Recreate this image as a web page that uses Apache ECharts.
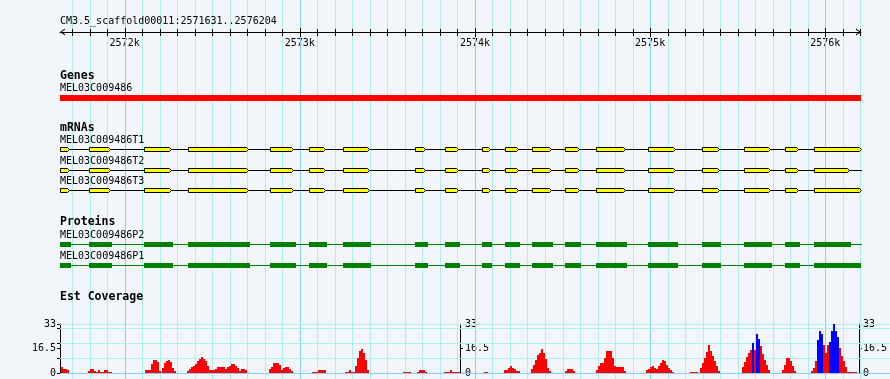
<!DOCTYPE html>
<html>
<head>
<meta charset="utf-8">
<script src="https://cdn.jsdelivr.net/npm/echarts@6.0.0/dist/echarts.min.js"></script>
<style>
html,body{margin:0;padding:0;background:#f2f5fa;}
#chart{width:890px;height:379px;}
</style>
</head>
<body>
<div id="chart"></div>
<script>
// ================= DATA =================
const regionStart = 2571631;
const regionEnd = 2576204;
const regionTitle = 'CM3.5_scaffold00011:2571631..2576204';
const majorTicks = [2572000, 2573000, 2574000, 2575000, 2576000];
const tickStep = 100;

const trackTitles = ['Genes', 'mRNAs', 'Proteins', 'Est Coverage'];

const geneNames = ['MEL03C009486'];
const geneSpans = [[2571631, 2576204]];

const mrnaNames = ['MEL03C009486T1', 'MEL03C009486T2', 'MEL03C009486T3'];
const mrnaSpans = [[2571625, 2576202], [2571625, 2576210], [2571625, 2576202]];
const mrnaT1Exons = [[2571625,2571682],[2571798,2571916],[2572111,2572263],[2572363,2572703],[2572830,2572963],[2573054,2573144],[2573248,2573395],[2573659,2573715],[2573831,2573902],[2574042,2574086],[2574173,2574247],[2574327,2574434],[2574516,2574594],[2574691,2574857],[2574990,2575142],[2575298,2575393],[2575538,2575685],[2575770,2575846],[2575937,2576202]];
const mrnaT2Exons = [[2571625,2571682],[2571798,2571916],[2572111,2572263],[2572363,2572703],[2572830,2572963],[2573054,2573144],[2573248,2573395],[2573659,2573715],[2573831,2573902],[2574042,2574086],[2574173,2574247],[2574327,2574434],[2574516,2574594],[2574691,2574857],[2574990,2575142],[2575298,2575393],[2575538,2575685],[2575770,2575846],[2575937,2576137]];
const mrnaT3Exons = [[2571625,2571682],[2571798,2571916],[2572111,2572263],[2572363,2572703],[2572830,2572963],[2573054,2573144],[2573248,2573395],[2573659,2573715],[2573831,2573902],[2574042,2574086],[2574173,2574247],[2574327,2574434],[2574516,2574594],[2574691,2574857],[2574990,2575142],[2575298,2575393],[2575538,2575685],[2575770,2575846],[2575937,2576202]];

const proteinNames = ['MEL03C009486P2', 'MEL03C009486P1'];
const proteinSpans = [[2571631, 2576210], [2571631, 2576204]];
const proteinP2Cds = [[2571631,2571694],[2571798,2571928],[2572111,2572276],[2572363,2572716],[2572830,2572978],[2573054,2573155],[2573248,2573407],[2573658,2573732],[2573829,2573915],[2574040,2574097],[2574172,2574257],[2574326,2574446],[2574514,2574606],[2574691,2574868],[2574988,2575157],[2575296,2575405],[2575536,2575696],[2575770,2575856],[2575935,2576147]];
const proteinP1Cds = [[2571631,2571694],[2571798,2571928],[2572111,2572276],[2572363,2572716],[2572830,2572978],[2573054,2573155],[2573248,2573407],[2573658,2573732],[2573829,2573915],[2574040,2574097],[2574172,2574257],[2574326,2574446],[2574514,2574606],[2574691,2574868],[2574988,2575157],[2575296,2575405],[2575536,2575696],[2575770,2575856],[2575935,2576204]];

// EST coverage: [bin start (bp), values of consecutive bins]
const estBinBp = 11.4;
const estRedPeaks = [
  [2571637, [4.0, 2.7, 2.7, 2.0]],
  [2571793, [1.6, 2.7, 2.7, 1.6, 0.7, 2.0, 0.7, 1.0, 2.0, 2.0, 0.7, 0.7]],
  [2572116, [2.2, 2.2, 2.2, 6.0, 8.8, 8.8, 7.5, 1.6]],
  [2572215, [3.4, 6.7, 8.3, 8.8, 7.5, 3.4, 1.6]],
  [2572360, [1.6, 2.9, 4.0, 4.9, 6.1, 7.9, 9.7, 11.0, 9.7, 7.9, 4.5, 2.0, 2.0, 2.0, 2.7, 4.0, 4.0, 4.0, 4.0, 2.7, 4.0, 4.9, 6.1, 6.1, 4.9, 3.4, 1.1, 2.7, 2.7, 2.0]],
  [2572830, [2.5, 4.3, 6.7, 6.7, 6.7, 5.6, 2.0, 3.4, 4.0, 4.0, 2.9, 1.6]],
  [2573071, [0.7, 0.7, 0.7, 2.0, 2.0, 2.0, 2.0]],
  [2573264, [0.7, 0.7, 2.0, 0.7, 0.7, 4.5, 10.0, 14.6, 16.4, 13.2, 8.5, 2.2]],
  [2573595, [0.7, 0.7, 0.7, 0.7]],
  [2573675, [0.7, 2.0, 2.0, 2.0, 0.7]],
  [2573829, [0.7, 0.7, 0.7, 2.0, 0.7, 0.7, 0.7, 0.7]],
  [2574057, [0.7, 0.7]],
  [2574172, [2.2, 2.2, 3.4, 4.7, 3.5, 2.9, 1.6, 1.6]],
  [2574326, [2.9, 5.6, 9.0, 12.3, 13.7, 15.9, 13.2, 9.7, 3.4, 1.1]],
  [2574520, [1.6, 2.7, 2.7, 2.7, 1.6]],
  [2574697, [2.2, 4.5, 6.7, 6.7, 10.1, 15.0, 15.0, 15.0, 10.0, 4.9, 4.0, 4.0, 4.0, 4.0, 1.1]],
  [2574988, [2.2, 3.0, 3.8, 4.5, 3.4, 2.5, 4.9, 6.7, 8.5, 7.9, 5.6, 3.4, 2.2, 0.7]],
  [2575239, [0.7, 0.7, 0.7, 0.7]],
  [2575296, [3.4, 6.7, 10.1, 14.1, 19.0, 14.6, 11.2, 7.9, 4.5, 1.1]],
  [2575534, [3.8, 7.4, 10.6, 13.7, 15.7, 15.7, 15.7, 17.0, 18.0, 18.4, 13.0, 9.0, 5.6, 2.2]],
  [2575766, [2.2, 5.6, 10.1, 10.1, 7.9, 4.5, 1.1]],
  [2575930, [1.1, 3.4, 7.9, 12.3, 15.0, 15.0, 19.0, 13.5, 19.0, 17.0, 17.0, 17.0, 17.0, 17.0, 16.8, 11.2, 7.9, 3.8, 0.7, 0.7, 0.7, 0.7, 0.7]]
];
const estBluePeaks = [
  [2575534, [0, 0, 0, 0, 0, 20.2, 0, 26.3, 23.1]],
  [2575930, [0, 0, 0, 22.4, 28.1, 26.3, 0, 0, 0, 20.9, 28.5, 33.0, 28.0, 24.0]]
];
const covMax = 33;
const covAxisLabels = [0, 16.5, 33];
const covAxisTicks = [0, 10, 16.5, 20, 30, 33];
const covGridValues = [0, 10, 20, 30, 33];

// ================= STYLE =================
const FONT = '"DejaVu Sans Mono", monospace';
const C = {
  bg: '#f2f5fa', gridMinor: '#aeeeee', gridMajor: '#87cefa',
  gene: '#ff0000', exon: '#ffff00', protein: '#008000',
  estRed: '#ff0000', estBlue: '#0000ff', ink: '#000000'
};

// ================= BUILD =================
const allTicks = [];
for (let v = Math.ceil(regionStart / tickStep) * tickStep; v <= regionEnd; v += tickStep) allTicks.push(v);
const gridLineData = allTicks.map(v => [v, majorTicks.includes(v) ? 1 : 0]);

const mrnaExonSets = [mrnaT1Exons, mrnaT2Exons, mrnaT3Exons];
const mrnaExonData = [];
mrnaExonSets.forEach((set, i) => set.forEach(e => mrnaExonData.push([e[0], e[1], i])));
const proteinCdsSets = [proteinP2Cds, proteinP1Cds];
const proteinCdsData = [];
proteinCdsSets.forEach((set, i) => set.forEach(e => proteinCdsData.push([e[0], e[1], i])));

function binsFromPeaks(peaks) {
  const out = [];
  peaks.forEach(p => p[1].forEach((v, k) => {
    if (v > 0) out.push([p[0] + k * estBinBp, p[0] + (k + 1) * estBinBp, v]);
  }));
  return out;
}
const estRedData = binsFromPeaks(estRedPeaks);
const estBlueData = binsFromPeaks(estBluePeaks);

const G = { left: 60, right: 29 };
const grids = [
  { ...G, top: 0, bottom: 0 },       // 0 overlay (vertical grid lines)
  { ...G, top: 20, height: 12 },     // 1 ruler
  { ...G, top: 95, height: 6 },      // 2 gene
  { ...G, top: 139, height: 62 },    // 3 mRNAs
  { ...G, top: 234, height: 42 },    // 4 proteins
  { ...G, top: 324, height: 49 }     // 5 EST coverage
];

const chevron = 'path://M3.5,0 L7,5 L5.8,5 L3.5,1.6 L1.2,5 L0,5 Z';
const xAxes = grids.map((g, i) => ({
  type: 'value', gridIndex: i, min: regionStart, max: regionEnd, show: false
}));
xAxes[1] = {
  type: 'value', gridIndex: 1, min: regionStart, max: regionEnd, position: 'bottom',
  axisLine: { show: true, lineStyle: { color: C.ink, width: 1 }, symbol: [chevron, chevron], symbolSize: [7, 5], symbolOffset: [2.5, -2.5] },
  axisTick: { show: false },
  axisLabel: { show: true, customValues: majorTicks, formatter: v => (v / 1000) + 'k', color: C.ink, fontSize: 10, fontFamily: FONT, margin: 5, lineHeight: 12 },
  splitLine: { show: false }
};

const covAxisCommon = {
  type: 'value', gridIndex: 5, min: 0, max: covMax,
  axisLine: { show: true, onZero: false, lineStyle: { color: C.ink, width: 1 } },
  splitLine: { show: false }
};
const yAxes = [
  { type: 'value', gridIndex: 0, min: 0, max: 1, show: false },
  { type: 'value', gridIndex: 1, min: 0, max: 1, show: false },
  { type: 'value', gridIndex: 2, min: 0, max: 1, show: false },
  { type: 'value', gridIndex: 3, min: -0.5, max: 2.5, inverse: true, show: false },
  { type: 'value', gridIndex: 4, min: -0.5, max: 1.5, inverse: true, show: false },
  { ...covAxisCommon, position: 'left',
    axisTick: { show: true, customValues: covAxisTicks, length: 3, lineStyle: { color: C.ink } },
    axisLabel: { customValues: covAxisLabels, color: C.ink, fontSize: 10, fontFamily: FONT, margin: 4 } },
  { ...covAxisCommon, position: 'left', offset: -400,
    axisTick: { show: true, inside: true, customValues: covAxisTicks, length: 3, lineStyle: { color: C.ink } },
    axisLabel: { inside: true, customValues: covAxisLabels, color: C.ink, fontSize: 10, fontFamily: FONT, margin: 5 } },
  { ...covAxisCommon, position: 'right',
    axisTick: { show: true, customValues: covAxisTicks, length: 3, lineStyle: { color: C.ink } },
    axisLabel: { customValues: covAxisLabels, color: C.ink, fontSize: 10, fontFamily: FONT, margin: 4 } }
];

function clampX(x, cs) { return Math.min(Math.max(x, cs.x), cs.x + cs.width); }
const labelFont = '10px ' + FONT;

function covRect(color) {
  return function (params, api) {
    const a = api.coord([api.value(0), api.value(2)]), b = api.coord([api.value(1), 0]);
    const x0 = Math.round(a[0]), x1 = Math.round(b[0]), y0 = Math.round(a[1]), y1 = Math.round(b[1]);
    return { type: 'rect', shape: { x: x0, y: y0, width: x1 - x0, height: y1 - y0 }, style: { fill: color } };
  };
}

const series = [
  // vertical grid lines
  { type: 'custom', xAxisIndex: 0, yAxisIndex: 0, z: 1, silent: true, data: gridLineData,
    renderItem(params, api) {
      const v = api.value(0);
      const t = api.coord([v, 1]), b = api.coord([v, 0]);
      const x = Math.round(t[0]) + 0.5;
      return { type: 'line', shape: { x1: x, y1: t[1], x2: x, y2: b[1] },
        style: { stroke: api.value(1) ? C.gridMajor : C.gridMinor, lineWidth: 1 } };
    } },
  // ruler ticks (cross the ruler line)
  { type: 'custom', xAxisIndex: 1, yAxisIndex: 1, z: 5, silent: true, data: gridLineData,
    renderItem(params, api) {
      const p = api.coord([api.value(0), 0]);
      const x = Math.round(p[0]) + 0.5;
      const yb = Math.round(p[1]);
      const ext = api.value(1) ? 4 : 3;
      return { type: 'line', shape: { x1: x, y1: yb - ext, x2: x, y2: yb + ext + 1 },
        style: { stroke: C.ink, lineWidth: 1 } };
    } },
  // coverage horizontal grid lines
  { type: 'custom', xAxisIndex: 5, yAxisIndex: 5, z: 1, silent: true, data: covGridValues.map(v => [regionStart, v]),
    renderItem(params, api) {
      const p = api.coord([regionStart, api.value(1)]);
      const y = Math.floor(p[1]) + 0.5;
      return { type: 'line', shape: { x1: p[0], y1: y, x2: api.getWidth(), y2: y },
        style: { stroke: api.value(1) === 0 ? C.gridMajor : C.gridMinor, lineWidth: 1 } };
    } },
  // gene
  { type: 'custom', xAxisIndex: 2, yAxisIndex: 2, z: 3, silent: true, data: geneSpans,
    renderItem(params, api) {
      const cs = params.coordSys;
      const a = api.coord([api.value(0), 1]), b = api.coord([api.value(1), 0]);
      const x0 = clampX(Math.round(a[0]), cs), x1 = clampX(Math.round(b[0]), cs);
      return { type: 'group', children: [
        { type: 'rect', shape: { x: x0, y: a[1], width: x1 - x0, height: b[1] - a[1] }, style: { fill: C.gene } },
        { type: 'text', x: x0, y: a[1] - 7, style: { text: geneNames[params.dataIndex], font: labelFont, fill: C.ink, verticalAlign: 'middle', align: 'left' } }
      ] };
    } },
  // mRNA backbone + labels
  { type: 'custom', xAxisIndex: 3, yAxisIndex: 3, z: 3, silent: true, data: mrnaSpans.map((s, i) => [s[0], s[1], i]),
    renderItem(params, api) {
      const cs = params.coordSys;
      const row = api.value(2);
      const a = api.coord([api.value(0), row]), b = api.coord([api.value(1), row]);
      const yc = Math.floor(a[1]) + 0.5;
      const x0 = clampX(Math.round(a[0]), cs);
      return { type: 'group', children: [
        { type: 'line', shape: { x1: x0, y1: yc, x2: Math.round(b[0]), y2: yc }, style: { stroke: C.ink, lineWidth: 1 } },
        { type: 'text', x: x0, y: yc - 9, style: { text: mrnaNames[row], font: labelFont, fill: C.ink, verticalAlign: 'middle', align: 'left' } }
      ] };
    } },
  // mRNA exons
  { type: 'custom', xAxisIndex: 3, yAxisIndex: 3, z: 4, silent: true, data: mrnaExonData,
    renderItem(params, api) {
      const cs = params.coordSys;
      const row = api.value(2);
      const a = api.coord([api.value(0), row]), b = api.coord([api.value(1), row]);
      const yc = Math.floor(a[1]) + 0.5;
      const x0 = clampX(Math.round(a[0]), cs) + 0.5, x1 = Math.round(b[0]) + 0.5;
      const top = yc - 2, bot = yc + 2;
      return { type: 'polygon', shape: { points: [[x0, top], [x1 - 2, top], [x1, yc], [x1 - 2, bot], [x0, bot]] },
        style: { fill: C.exon, stroke: C.ink, lineWidth: 1 } };
    } },
  // protein backbone + labels
  { type: 'custom', xAxisIndex: 4, yAxisIndex: 4, z: 3, silent: true, data: proteinSpans.map((s, i) => [s[0], s[1], i]),
    renderItem(params, api) {
      const cs = params.coordSys;
      const row = api.value(2);
      const a = api.coord([api.value(0), row]), b = api.coord([api.value(1), row]);
      const yc = Math.floor(a[1]) + 0.5;
      const x0 = clampX(Math.round(a[0]), cs);
      return { type: 'group', children: [
        { type: 'line', shape: { x1: x0, y1: yc, x2: Math.round(b[0]), y2: yc }, style: { stroke: C.protein, lineWidth: 1 } },
        { type: 'text', x: x0, y: yc - 9, style: { text: proteinNames[row], font: labelFont, fill: C.ink, verticalAlign: 'middle', align: 'left' } }
      ] };
    } },
  // protein CDS boxes
  { type: 'custom', xAxisIndex: 4, yAxisIndex: 4, z: 4, silent: true, data: proteinCdsData,
    renderItem(params, api) {
      const cs = params.coordSys;
      const row = api.value(2);
      const a = api.coord([api.value(0), row]), b = api.coord([api.value(1), row]);
      const yc = Math.floor(a[1]) + 0.5;
      const x0 = clampX(Math.round(a[0]), cs), x1 = clampX(Math.round(b[0]), cs);
      return { type: 'rect', shape: { x: x0, y: yc - 2.5, width: x1 - x0, height: 5 }, style: { fill: C.protein } };
    } },
  // EST coverage red / blue
  { type: 'custom', xAxisIndex: 5, yAxisIndex: 5, z: 3, silent: true, data: estRedData, renderItem: covRect(C.estRed) },
  { type: 'custom', xAxisIndex: 5, yAxisIndex: 5, z: 4, silent: true, data: estBlueData, renderItem: covRect(C.estBlue) }
];

const titleFont = 'bold 11.5px ' + FONT;
const trackTitleY = [76, 128.5, 222.5, 296.7];
const graphic = [
  { type: 'text', x: 60, y: 21, z: 10, style: { text: regionTitle, font: labelFont, fill: C.ink, verticalAlign: 'middle' } }
].concat(trackTitles.map((t, i) => ({
  type: 'text', x: 60, y: trackTitleY[i], z: 10, style: { text: t, font: titleFont, fill: C.ink, verticalAlign: 'middle' }
})));

const chart = echarts.init(document.getElementById('chart'), null, { renderer: 'canvas' });
chart.setOption({
  backgroundColor: C.bg,
  animation: false,
  textStyle: { fontFamily: FONT },
  grid: grids,
  xAxis: xAxes,
  yAxis: yAxes,
  series: series,
  graphic: graphic
});
</script>
</body>
</html>
